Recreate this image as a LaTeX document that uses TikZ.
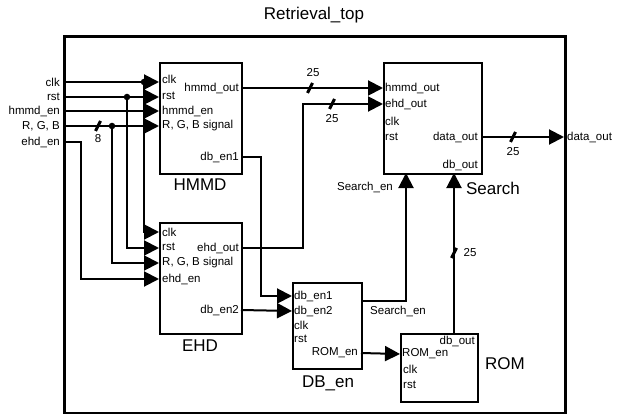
\documentclass[tikz,border=0pt]{standalone}
\usepackage{fontspec}
\setmainfont{Liberation Sans}
\usetikzlibrary{arrows.meta}
\begin{document}
\begin{tikzpicture}[x=1pt,y=-1pt,
  wire/.style={line width=2pt},
  sig/.style={wire,-{Triangle[length=15pt,width=15pt]}},
  blk/.style={draw,line width=2.3pt,inner sep=0pt},
  port/.style={inner sep=0pt,font=\fontsize{11.5}{12}\selectfont},
  big/.style={inner sep=0pt,font=\fontsize{17}{18}\selectfont},
  bus/.style={line width=3pt},
  jdot/.style={circle,fill,inner sep=0pt,minimum size=6.5pt}]
\useasboundingbox (0,0) rectangle (623,414);
% outer
\node[draw,line width=2.6pt,inner sep=0pt,minimum width=501pt,minimum height=377pt,anchor=north west] (top) at (63,35) {};
\node[big] (title) at (314,15) {Retrieval\_top};
% blocks
\node[blk,minimum width=82pt,minimum height=111pt,anchor=north west] (hmmd) at (159,62) {};
\node[blk,minimum width=82pt,minimum height=111pt,anchor=north west] (ehd) at (159,222) {};
\node[blk,minimum width=98pt,minimum height=111pt,anchor=north west] (search) at (383,62) {};
\node[blk,minimum width=69pt,minimum height=86pt,anchor=north west] (dben) at (292,282) {};
\node[blk,minimum width=77pt,minimum height=68pt,anchor=north west] (rom) at (400,333) {};
\node[big] (lhmmd) at (200,185) {HMMD};
\node[big] (lehd) at (200,346) {EHD};
\node[big] (lsearch) at (493,188) {Search};
\node[big] (ldben) at (328,383) {DB\_en};
\node[big] (lrom) at (505,364) {ROM};
% input labels
\node[port,anchor=east] (iclk) at (60,82) {clk};
\node[port,anchor=east] (irst) at (60,97) {rst};
\node[port,anchor=east] (ihen) at (60,111) {hmmd\_en};
\node[port,anchor=east] (irgb) at (60,126) {R, G, B};
\node[port,anchor=east] (ieen) at (60,142) {ehd\_en};
\coordinate (inclk) at (63,82);
\coordinate (inrst) at (63,97);
\coordinate (inhen) at (63,111);
\coordinate (inrgb) at (63,126);
\coordinate (ineen) at (63,142);
% HMMD ports
\node[port,anchor=west] (hclk) at (162,79) {clk};
\node[port,anchor=west] (hrst) at (162,96) {rst};
\node[port,anchor=west] (hhen) at (162,111) {hmmd\_en};
\node[port,anchor=west] (hrgb) at (162,126) {R, G, B signal};
\node[port,anchor=east] (hout) at (239,88) {hmmd\_out};
\node[port,anchor=east] (hdb) at (239,157) {db\_en1};
\coordinate (hmmd-clk) at (159,82);
\coordinate (hmmd-rst) at (159,97);
\coordinate (hmmd-hen) at (159,111);
\coordinate (hmmd-rgb) at (159,126);
\coordinate (hmmd-out) at (241,88);
\coordinate (hmmd-db) at (241,157);
% EHD ports
\node[port,anchor=west] (eclk) at (162,232) {clk};
\node[port,anchor=west] (erst) at (162,247) {rst};
\node[port,anchor=west] (ergb) at (162,263) {R, G, B signal};
\node[port,anchor=west] (eeen) at (162,279) {ehd\_en};
\node[port,anchor=east] (eout) at (239,248) {ehd\_out};
\node[port,anchor=east] (edb) at (239,310) {db\_en2};
\coordinate (ehd-clk) at (159,232);
\coordinate (ehd-rst) at (159,248);
\coordinate (ehd-rgb) at (159,263);
\coordinate (ehd-een) at (159,279);
\coordinate (ehd-out) at (241,248);
\coordinate (ehd-db) at (241,310);
% Search ports
\node[port,anchor=west] (shout) at (385,88) {hmmd\_out};
\node[port,anchor=west] (seout) at (385,104) {ehd\_out};
\node[port,anchor=west] (sclk) at (385,121) {clk};
\node[port,anchor=west] (srst) at (385,137) {rst};
\node[port,anchor=east] (sdata) at (478,137) {data\_out};
\node[port,anchor=east] (sdb) at (478,165) {db\_out};
\coordinate (search-hout) at (383,88);
\coordinate (search-eout) at (383,104);
\coordinate (search-data) at (482,137);
\coordinate (search-en) at (406,173);
\coordinate (search-db) at (454,173);
% DB_en ports
\node[port,anchor=west] (ddb1) at (294,296) {db\_en1};
\node[port,anchor=west] (ddb2) at (294,311) {db\_en2};
\node[port,anchor=west] (dclk) at (294,325) {clk};
\node[port,anchor=west] (drst) at (294,339) {rst};
\node[port,anchor=east] (drom) at (358,353) {ROM\_en};
\coordinate (dben-db1) at (292,296);
\coordinate (dben-db2) at (292,311);
\coordinate (dben-sen) at (361,301);
\coordinate (dben-rom) at (361,353);
% ROM ports
\node[port,anchor=east] (rdb) at (475,341) {db\_out};
\node[port,anchor=west] (rrom) at (402,354) {ROM\_en};
\node[port,anchor=west] (rclk) at (403,369) {clk};
\node[port,anchor=west] (rrst) at (403,385) {rst};
\coordinate (rom-rom) at (400,354);
\coordinate (rom-db) at (454,333);
% output
\coordinate (outdata) at (564,137);
\node[port,anchor=west] (odata) at (567,137) {data\_out};
% junctions
\coordinate (jclk) at (144,82);
\coordinate (jrst) at (127,97);
\coordinate (jrgb) at (112,126);
% wires: inputs
\draw[sig] (inclk) -- (hmmd-clk);
\draw[sig] (inrst) -- (hmmd-rst);
\draw[sig] (inhen) -- (hmmd-hen);
\draw[sig] (inrgb) -- (hmmd-rgb);
\draw[sig] (jclk) -- (jclk |- ehd-clk) -- (ehd-clk);
\draw[sig] (jrst) -- (jrst |- ehd-rst) -- (ehd-rst);
\draw[sig] (jrgb) -- (jrgb |- ehd-rgb) -- (ehd-rgb);
\draw[sig] (ineen) -- (81,142) -- (81,279) -- (ehd-een);
\node[jdot] (dclkj) at (jclk) {};
\node[jdot] (drstj) at (jrst) {};
\node[jdot] (drgbj) at (jrgb) {};
\draw[bus] (95.5,131) -- (100.5,121);
\node[port] (n8) at (98,139) {8};
% HMMD/EHD to Search
\draw[sig] (hmmd-out) -- (search-hout);
\draw[bus] (307.5,93) -- (312.5,83);
\node[port] (n25a) at (313,73) {25};
\draw[sig] (ehd-out) -- (303,248) -- (303,104) -- (search-eout);
\draw[bus] (329.5,109) -- (334.5,99);
\node[port] (n25b) at (332,119) {25};
% db_en wires
\draw[sig] (hmmd-db) -- (261,157) -- (261,296) -- (dben-db1);
\draw[sig] (ehd-db) -- (dben-db2);
\draw[sig] (dben-sen) -- (406,301) -- (search-en);
\node[port,anchor=east] (lsen1) at (393,187) {Search\_en};
\node[port] (lsen2) at (398,311) {Search\_en};
\draw[sig] (dben-rom) -- (rom-rom);
\draw[sig] (rom-db) -- (search-db);
\draw[bus] (451.5,258) -- (456.5,248);
\node[port] (n25d) at (470,253) {25};
% data out
\draw[sig] (search-data) -- (outdata);
\draw[bus] (510.5,142) -- (515.5,132);
\node[port] (n25c) at (513,152) {25};
\end{tikzpicture}
\end{document}
